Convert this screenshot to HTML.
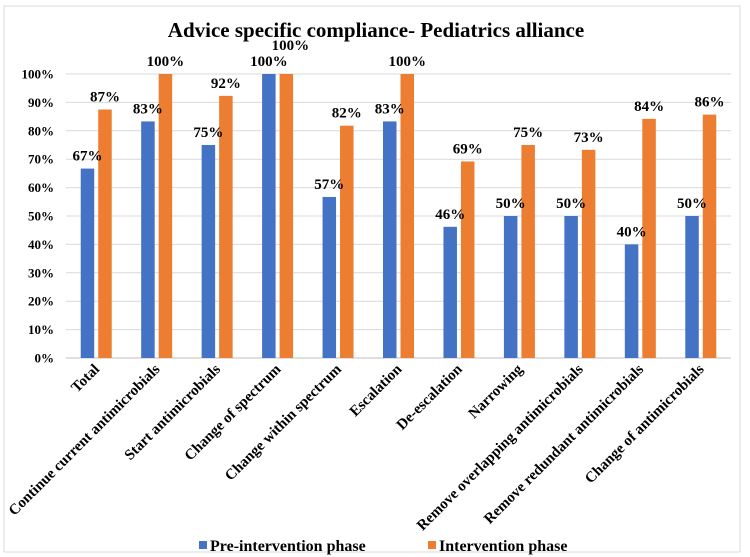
<!DOCTYPE html>
<html><head><meta charset="utf-8"><style>
body{margin:0;background:#fff;}
svg{display:block;font-family:"Liberation Serif",serif;font-weight:bold;}
</style></head><body>
<svg id="chart" width="750" height="557" viewBox="0 0 750 557">
<rect x="4" y="6" width="736" height="546" fill="#fff" stroke="#d9d9d9"/>
<text x="376" y="37" text-anchor="middle" font-size="21" fill="#000">Advice specific compliance- Pediatrics alliance</text>
<g id="grid"></g><g id="bars"></g><g id="labels"></g>
<g>
<rect x="199" y="541" width="8" height="8" fill="#4472c4"/>
<text x="210" y="551" font-size="16">Pre-intervention phase</text>
<rect x="428" y="541" width="8" height="8" fill="#ed7d31"/>
<text x="439" y="551" font-size="16">Intervention phase</text>
</g>
</svg>
<script>
const categories=["Total","Continue current antimicrobials","Start antimicrobials","Change of spectrum","Change within spectrum","Escalation","De-escalation","Narrowing","Remove overlapping antimicrobials","Remove redundant antimicrobials","Change of antimicrobials"];
const preValues=[66.7,83.3,75,100,56.7,83.3,46.2,50,50,40,50];
const intValues=[87.5,100,92.3,100,81.8,100,69.2,75,73.3,84.2,85.7];
const preLabels=["67%","83%","75%","100%","57%","83%","46%","50%","50%","40%","50%"];
const intLabels=["87%","100%","92%","100%","82%","100%","69%","75%","73%","84%","86%"];
const yTicks=[0,10,20,30,40,50,60,70,80,90,100];
const NS="http://www.w3.org/2000/svg";
const X0=66,X1=731,Y0=358,Y100=74;
const band=(X1-X0)/categories.length;
const y=v=>Y0-(v/100)*(Y0-Y100);
const xc=i=>X0+band*(i+0.5);
function mk(tag,attrs,parent){const e=document.createElementNS(NS,tag);for(const k in attrs)e.setAttribute(k,attrs[k]);parent.appendChild(e);return e;}
const grid=document.getElementById('grid'),bars=document.getElementById('bars'),labels=document.getElementById('labels');
yTicks.forEach(t=>{
 const l=mk('line',{x1:X0,x2:X1,y1:y(t),y2:y(t),stroke:t===0?'#bfbfbf':'#d9d9d9','stroke-width':1},grid);
 
 
 const tx=mk('text',{x:54,y:y(t)+4.5,'text-anchor':'end','font-size':13},grid);
 tx.textContent=t+'%';
 
 
});
categories.forEach((c,i)=>{
 const cx=xc(i);
 const bw=13.5;
 const bx=cx-bw-2, ox=cx+2;
 const b1=mk('rect',{x:bx,y:y(preValues[i]),width:bw,height:Y0-y(preValues[i]),fill:'#4472c4'},bars);
 
 
 const b2=mk('rect',{x:ox,y:y(intValues[i]),width:bw,height:Y0-y(intValues[i]),fill:'#ed7d31'},bars);
 
 
 const l1=mk('text',{x:bx+bw/2,y:y(preValues[i])-8,'text-anchor':'middle','font-size':15},labels);
 l1.textContent=preLabels[i];
 
 
 const extra=(preValues[i]>=99&&intValues[i]>=99)?16:0;
 const l2=mk('text',{x:ox+bw/2+(extra?4:0),y:y(intValues[i])-8-extra,'text-anchor':'middle','font-size':15},labels);
 l2.textContent=intLabels[i];
 
 
 const cl=mk('text',{x:cx+4,y:370,'text-anchor':'end','font-size':15,transform:`rotate(-45 ${cx+4} 370)`},labels);
 cl.textContent=c;
 
 
});
</script>
</body></html>
